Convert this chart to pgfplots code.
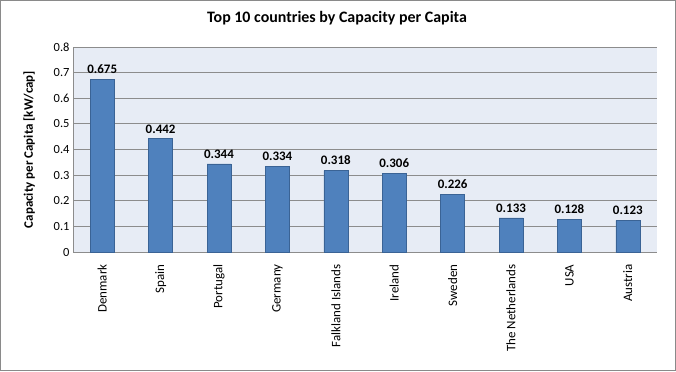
\documentclass[border=0pt]{standalone}
\usepackage{pgfplots}
\pgfplotsset{compat=1.18}
\usepackage{fontspec}
\setmainfont{Carlito}
\definecolor{barblue}{HTML}{4F81BD}
\definecolor{baredge}{HTML}{3A6395}
\definecolor{plotbg}{HTML}{E7ECF5}
\definecolor{gridc}{HTML}{8C8C8C}
\definecolor{framec}{HTML}{8A8A8A}
\begin{document}
\begin{tikzpicture}[x=1bp,y=1bp]
\draw[framec, line width=1bp] (0.5,0.5) rectangle (675.5,370.5);
\begin{axis}[
  at={(73bp,119bp)}, anchor=south west,
  scale only axis, width=584bp, height=205bp,
  /pgf/number format/assume math mode=true,
  ymin=0, ymax=0.8, ytick={0,0.1,...,0.8},
  yticklabel style={font=\fontsize{12.5}{14}\selectfont, /pgf/number format/fixed, /pgf/number format/precision=1},
  xmin=-0.5, xmax=9.5, xtick=data,
  xticklabels={Denmark,Spain,Portugal,Germany,Falkland Islands,Ireland,Sweden,The Netherlands,USA,Austria},
  xticklabel style={rotate=90, anchor=east, font=\fontsize{13}{15}\selectfont},
  xticklabel shift=9bp,
  major tick length=0pt,
  axis x line*=bottom, axis y line*=left,
  axis line style={gridc, line width=0.8bp},
  ymajorgrids, grid style={gridc, line width=0.8bp},
  axis background/.style={fill=plotbg},
  ylabel={\bfseries Capacity per Capita [kW/cap]},
  ylabel style={at={(axis description cs:-0.075,0.5)}, anchor=center, font=\fontsize{13}{15}\selectfont},
  title={\bfseries Top 10 countries by Capacity per Capita},
  title style={at={(axis description cs:0.5,1)}, anchor=center, yshift=23bp, xshift=-28bp, font=\fontsize{16}{18}\selectfont},
  ybar, bar width=24bp,
  nodes near coords,
  nodes near coords style={font=\fontsize{13}{15}\selectfont\bfseries, /pgf/number format/fixed, /pgf/number format/precision=3, /pgf/number format/fixed zerofill, yshift=2bp},
  clip=false,
]
\addplot[fill=barblue, draw=baredge, line width=0.6bp] coordinates {
(0,0.675) (1,0.442) (2,0.344) (3,0.334) (4,0.318) (5,0.306) (6,0.226) (7,0.133) (8,0.128) (9,0.123)};
\end{axis}
\end{tikzpicture}
\end{document}
